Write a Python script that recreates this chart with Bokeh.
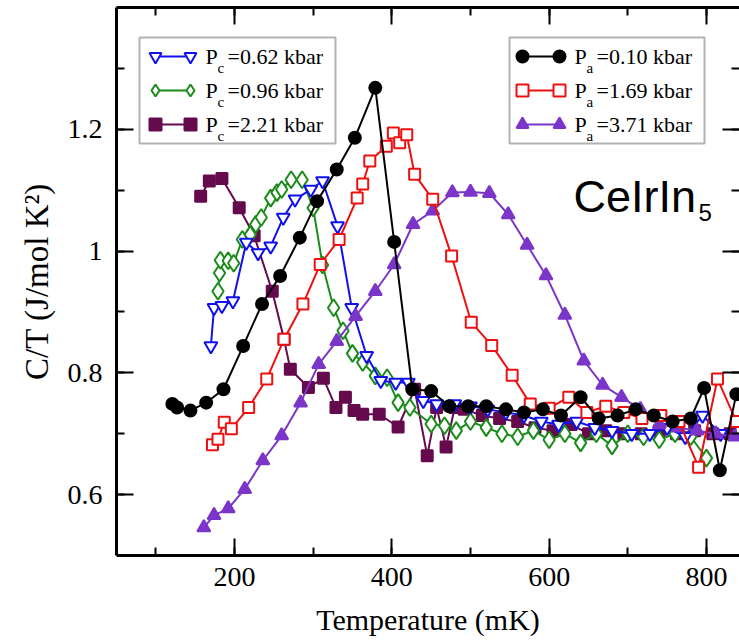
from bokeh.plotting import figure
from bokeh.models import Range1d, LinearAxis, FixedTicker, Label, BoxAnnotation, Legend, LegendItem
from bokeh.embed import file_html
from bokeh.resources import INLINE

# ---------------- data (T in mK, C/T in J/mol K^2) ----------------
black_T = [121, 127, 144, 164, 186, 211, 235, 258, 283, 305, 330, 353, 379, 403, 426, 450, 473, 497,
           520, 545, 568, 592, 615, 640, 663, 687, 710, 733, 757, 780, 797, 817, 838]
black_C = [0.749, 0.743, 0.738, 0.751, 0.773, 0.844, 0.913, 0.959, 1.022, 1.082, 1.134, 1.186, 1.268,
           1.015, 0.773, 0.770, 0.745, 0.745, 0.745, 0.740, 0.735, 0.740, 0.730, 0.760, 0.725, 0.730,
           0.740, 0.730, 0.720, 0.725, 0.775, 0.640, 0.765]

red_T = [172, 179, 187, 196, 218, 241, 263, 287, 309, 333, 356, 363, 372, 393, 402, 410, 419, 429,
         452, 476, 501, 527, 553, 576, 600, 625, 648, 672, 695, 718, 742, 765, 790, 814, 838]
red_C = [0.682, 0.691, 0.719, 0.708, 0.743, 0.790, 0.855, 0.913, 0.978, 1.019, 1.087, 1.110, 1.148,
         1.172, 1.194, 1.178, 1.191, 1.126, 1.085, 0.992, 0.883, 0.845, 0.796, 0.749, 0.742, 0.760,
         0.735, 0.745, 0.735, 0.725, 0.730, 0.720, 0.645, 0.790, 0.720]

tri_T = [161, 174, 192, 213, 236, 260, 284, 307, 330, 354, 379, 403, 427, 452, 477, 500, 524, 548,
         572, 596, 620, 644, 668, 692, 716, 740, 764, 788, 812, 836]
tri_C = [0.546, 0.566, 0.577, 0.609, 0.656, 0.697, 0.751, 0.814, 0.852, 0.893, 0.934, 0.978, 1.044,
         1.066, 1.096, 1.097, 1.095, 1.060, 1.010, 0.960, 0.895, 0.820, 0.780, 0.760, 0.740, 0.715,
         0.710, 0.705, 0.700, 0.695]

blue_T = [170, 174, 184, 198, 215, 230, 246, 262, 277, 297, 312, 331, 349, 368, 386, 405, 421, 440,
          457, 480, 500, 522, 545, 568, 590, 612, 635, 658, 680, 705, 728, 750, 773, 795, 818]
blue_C = [0.844, 0.907, 0.910, 0.918, 1.014, 0.997, 1.008, 1.055, 1.085, 1.101, 1.115, 1.041, 0.907,
          0.828, 0.787, 0.784, 0.784, 0.754, 0.749, 0.749, 0.745, 0.740, 0.735, 0.730, 0.720, 0.715,
          0.720, 0.710, 0.705, 0.700, 0.700, 0.710, 0.695, 0.730, 0.700]

green_T = [179, 181, 182, 192, 199, 210, 220, 227, 234, 246, 254, 260, 272, 286, 300, 312, 326, 338,
           350, 363, 379, 394, 408, 423, 450, 467, 482, 500, 520, 540, 560, 580, 600, 620, 640, 660,
           680, 700, 720, 740, 760, 780, 800]
green_C = [0.934, 0.964, 0.985, 0.984, 0.980, 1.019, 1.027, 1.044, 1.055, 1.087, 1.096, 1.101, 1.117,
           1.117, 1.071, 0.977, 0.907, 0.869, 0.832, 0.817, 0.795, 0.792, 0.751, 0.743, 0.716, 0.713,
           0.705, 0.720, 0.710, 0.700, 0.695, 0.705, 0.690, 0.700, 0.685, 0.700, 0.680, 0.700, 0.695,
           0.690, 0.700, 0.695, 0.660]

sq_T = [157, 168, 184, 206, 225, 248, 263, 271, 294, 313, 329, 341, 352, 363, 384, 408, 429, 445,
        457, 469, 480, 492, 515, 537, 560, 582, 605, 628, 650, 672, 695, 717, 740, 762, 785, 808, 830]
sq_C = [1.090, 1.115, 1.119, 1.071, 1.025, 0.934, 0.855, 0.806, 0.776, 0.791, 0.743, 0.760, 0.738,
        0.732, 0.732, 0.711, 0.773, 0.664, 0.743, 0.678, 0.743, 0.740, 0.730, 0.725, 0.720, 0.710,
        0.705, 0.715, 0.700, 0.705, 0.700, 0.700, 0.705, 0.700, 0.705, 0.700, 0.700]

x_major = [200, 400, 600, 800]
x_minor = [100, 300, 500, 700]
y_major = [0.6, 0.8, 1.0, 1.2]
y_minor = [0.7, 0.9, 1.1, 1.3]
y_labels = {0.6: "0.6", 0.8: "0.8", 1.0: "1", 1.2: "1.2"}

legend_c = ["0.62", "0.96", "2.21"]
legend_a = ["0.10", "1.69", "3.71"]

# ---------------- layout constants ----------------
FL, FT, FR, FB = 116, 7, 739, 555  # frame edges in canvas pixels
SERIF = "Liberation Serif"

p = figure(width=739, height=644, output_backend="svg", toolbar_location=None,
           x_range=Range1d(50, 842), y_range=Range1d(0.5, 1.4),
           min_border_left=FL, min_border_right=0, min_border_top=FT, min_border_bottom=644 - FB,
           x_axis_label="Temperature (mK)", y_axis_label="C/T (J/mol K\u00b2)")
p.outline_line_color = None
p.grid.visible = False
p.background_fill_color = "white"

def style_axis(ax, labels=True):
    ax.major_tick_in = 17
    ax.major_tick_out = 0
    ax.minor_tick_in = 8
    ax.minor_tick_out = 0
    ax.major_tick_line_width = 2
    ax.minor_tick_line_width = 2
    ax.axis_line_width = 3
    ax.major_tick_line_color = "black"
    ax.minor_tick_line_color = "black"
    ax.axis_line_color = "black"
    if labels:
        ax.major_label_text_font = SERIF
        ax.major_label_text_font_size = "28px"
        ax.major_label_text_color = "black"
        ax.axis_label_text_font = SERIF
        ax.axis_label_text_font_size = "30px"
        ax.axis_label_text_font_style = "normal"
        ax.axis_label_text_color = "black"
    else:
        ax.major_label_text_color = None
        ax.axis_label = None

xa = p.xaxis[0]
xa.ticker = FixedTicker(ticks=x_major, minor_ticks=x_minor + x_major)
style_axis(xa)
xa.major_label_standoff = 12
xa.axis_label_standoff = 14

ya = p.yaxis[0]
ya.ticker = FixedTicker(ticks=y_major, minor_ticks=y_minor + y_major)
ya.major_label_overrides = y_labels
style_axis(ya)
ya.axis_label_text_font_size = "33px"
ya.major_label_standoff = 14
ya.axis_label_standoff = 10

top = LinearAxis(ticker=FixedTicker(ticks=x_major, minor_ticks=x_minor + x_major))
style_axis(top, labels=False)
p.add_layout(top, "above")
right = LinearAxis(ticker=FixedTicker(ticks=y_major, minor_ticks=y_minor + y_major))
style_axis(right, labels=False)
right.axis_line_color = None
p.add_layout(right, "right")

MS = 12
LW = 2

def series(T, C, color, marker, fill, size=MS):
    ln = p.line(T, C, line_color=color, line_width=LW)
    sc = p.scatter(T, C, marker=marker, size=size, line_color=color, fill_color=fill, line_width=2)
    return ln, sc

r_sq = series(sq_T, sq_C, "#660a4e", "square", "#660a4e", 11)
r_green = series(green_T, green_C, "#1a8c1a", "diamond", "white", 17)
r_blue = series(blue_T, blue_C, "#1010ee", "inverted_triangle", "white", 13)
r_tri = series(tri_T, tri_C, "#7b35c8", "triangle", "#7b35c8", 13)
r_red = series(red_T, red_C, "#ee1010", "square", "white", 11)
r_black = series(black_T, black_C, "black", "circle", "black", 12)

# ---------------- legends ----------------
def legend_box(x0, x1, y0, y1):
    p.add_layout(BoxAnnotation(left=x0 - FL, right=x1 - FL, top=FB - y0, bottom=FB - y1,
                               left_units="screen", right_units="screen",
                               top_units="screen", bottom_units="screen",
                               fill_color="white", fill_alpha=1.0,
                               line_color="black", line_width=2))

ROW0, ROWH, GH = 56, 34, 30

def sample_legend(renderers, xc_left, xc_right):
    top_y = ROW0 - GH / 2
    bottom_y = top_y + 3 * GH + 2 * (ROWH - GH)
    common = dict(spacing=ROWH - GH, padding=0, margin=0, glyph_height=GH,
                  border_line_color=None, background_fill_alpha=0, label_text_font_size="1px",
                  label_width=0, label_standoff=0, label_height=GH)
    lg = Legend(items=[LegendItem(label="", renderers=[r[0]]) for r in renderers],
                location=(xc_left - FL, FB - bottom_y), glyph_width=xc_right - xc_left, **common)
    p.add_layout(lg)
    for xc in (xc_left, xc_right):
        lm = Legend(items=[LegendItem(label="", renderers=[r[1]]) for r in renderers],
                    location=(xc - GH / 2 - FL, FB - bottom_y), glyph_width=GH, **common)
        p.add_layout(lm)

legend_box(139, 335, 37, 143)
legend_box(509, 704, 37, 143)
sample_legend([r_blue, r_green, r_sq], 155, 190)
sample_legend([r_black, r_red, r_tri], 522, 559)

def legend_text(x, sub, rest, row):
    mid = ROW0 + row * ROWH
    kw = dict(x_units="screen", y_units="screen", text_font=SERIF, text_color="black",
              text_baseline="middle")
    p.add_layout(Label(x=x - FL, y=FB - mid, text="P", text_font_size="22px", **kw))
    p.add_layout(Label(x=x + 12 - FL, y=FB - mid - 11, text=sub, text_font_size="15px", **kw))
    p.add_layout(Label(x=x + 22 - FL, y=FB - mid, text=rest, text_font_size="22px", **kw))

for i, v in enumerate(legend_c):
    legend_text(205, "c", "=" + v + " kbar", i)
for i, v in enumerate(legend_a):
    legend_text(574, "a", "=" + v + " kbar", i)

# ---------------- compound label ----------------
p.add_layout(Label(x=573 - FL, y=FB - 196, x_units="screen", y_units="screen", text="CeIrIn",
                   text_font="Liberation Sans", text_font_size="45px", text_color="black",
                   text_baseline="middle"))
p.add_layout(Label(x=698 - FL, y=FB - 212, x_units="screen", y_units="screen", text="5",
                   text_font="Liberation Sans", text_font_size="24px", text_color="black",
                   text_baseline="middle"))

open("out.html", "w").write(file_html(p, INLINE))
